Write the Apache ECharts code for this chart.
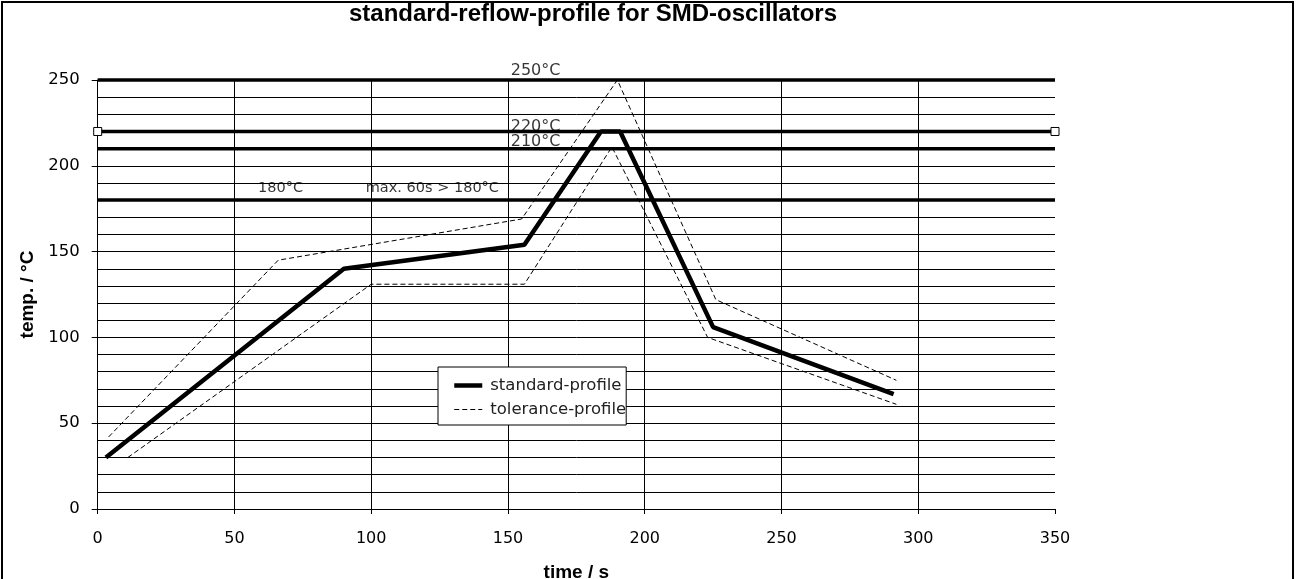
<!DOCTYPE html>
<html>
<head>
<meta charset="utf-8">
<script src="https://cdn.jsdelivr.net/npm/echarts@6/dist/echarts.min.js"></script>
<style>html,body{margin:0;padding:0;background:#fff;}#c{width:1297px;height:579px;}</style>
</head>
<body>
<div id="c"></div>
<script>
// ---- data ----
const standardProfile = [[3,30],[90,140],[156,154],[184,220],[191,220],[225,106],[291,67]];
const toleranceUpper  = [[4,42],[66,145],[155,169],[190,250],[226,122],[292,75]];
const toleranceLower  = [[11,30],[100,131],[156,131],[188,211],[223,100],[292,61]];
const limitLevels = [250, 220, 210, 180];
const limitStart = 0, limitEnd = 350;
const peakLabelTexts = ['250°C', '220°C', '210°C'];
const peakLabelX = [151, 151, 151];
const peakLabelY = [250.6, 218.2, 209.2];
const soakLabelTexts = ['180°C', 'max. 60s > 180°C'];
const soakLabelX = [58.6, 98];
const soakLabelY = [182.6, 182.6];
const xTicks = [0, 50, 100, 150, 200, 250, 300, 350];
const yTicks = [0, 50, 100, 150, 200, 250];

const chart = echarts.init(document.getElementById('c'));
const lblFont = 'DejaVu Sans';

const limitSeries = limitLevels.map(v => ({
  type: 'line',
  name: 'limit' + v,
  data: [[limitStart, v], [limitEnd, v]],
  lineStyle: { color: '#000', width: 3.5 },
  symbol: v === 220 ? 'rect' : 'none',
  symbolSize: 8,
  showSymbol: v === 220,
  itemStyle: { color: '#fff', borderColor: '#000', borderWidth: 1 },
  silent: true, z: 3, animation: false, clip: false
}));

function labelSeries(name, texts, xs, ys, size) {
  return {
    type: 'scatter', name: name, symbolSize: 0, silent: true, z: 2, clip: false,
    data: texts.map((t, i) => ({ value: [xs[i], ys[i]], name: t })),
    label: {
      show: true, position: [0, 0], align: 'left', verticalAlign: 'bottom',
      formatter: p => p.name, fontFamily: lblFont, fontSize: size, color: '#000'
    }
  };
}

const option = {
  backgroundColor: '#fff',
  animation: false,
  title: {
    text: 'standard-reflow-profile for SMD-oscillators',
    left: 344, top: -3,
    textStyle: { fontFamily: 'Liberation Sans', fontWeight: 'bold', fontSize: 24, color: '#000' }
  },
  legend: {
    data: [
      { name: 'standard-profile', lineStyle: { width: 4.5, color: '#000' } },
      { name: 'tolerance-profile', lineStyle: { width: 1, color: '#000', type: [5, 3] } }
    ],
    orient: 'vertical',
    left: 438, top: 367,
    padding: [10, 0, 7, 14],
    itemGap: 7,
    itemWidth: 28, itemHeight: 14,
    backgroundColor: '#fff',
    borderColor: '#000', borderWidth: 1, borderRadius: 0,
    itemStyle: { opacity: 0 },
    textStyle: { fontFamily: lblFont, fontSize: 16.5, color: '#222', padding: [0, 0, 0, 3] }
  },
  grid: { left: 97.7, right: 242, top: 80, bottom: 70, containLabel: false, outerBoundsMode: 'none' },
  xAxis: {
    type: 'value', min: 0, max: 350, interval: 50,
    name: 'time / s', nameLocation: 'middle', nameGap: 54,
    nameTextStyle: { fontFamily: 'Liberation Sans', fontWeight: 'bold', fontSize: 19, color: '#000', verticalAlign: 'top' },
    axisLine: { show: true, lineStyle: { color: '#000', width: 1 } },
    axisTick: { show: true, length: 5, lineStyle: { color: '#000' } },
    axisLabel: { color: '#000', fontFamily: lblFont, fontSize: 16, margin: 22,
      formatter: v => xTicks.includes(v) ? String(v) : '' },
    splitLine: { show: true, showMaxLine: false, lineStyle: { color: '#000', width: 1 } }
  },
  yAxis: {
    type: 'value', min: 0, max: 250, interval: 50,
    name: 'temp. / °C', nameLocation: 'middle', nameGap: 58,
    nameTextStyle: { fontFamily: 'Liberation Sans', fontWeight: 'bold', fontSize: 19, color: '#000' },
    axisLine: { show: true, lineStyle: { color: '#000', width: 1 } },
    axisTick: { show: true, length: 6, lineStyle: { color: '#000' } },
    axisLabel: { color: '#000', fontFamily: lblFont, fontSize: 16.5, margin: 18,
      formatter: v => yTicks.includes(v) ? String(v) : '' },
    splitLine: { show: true, lineStyle: { color: '#000', width: 1 } },
    minorTick: { show: false, splitNumber: 5 },
    minorSplitLine: { show: true, lineStyle: { color: '#000', width: 1 } }
  },
  graphic: [
    { type: 'rect', shape: { x: 2, y: 2, width: 1291, height: 600 },
      style: { fill: 'none', stroke: '#000', lineWidth: 2 }, silent: true }
  ],
  series: [
    ...limitSeries,
    {
      type: 'line', name: 'standard-profile', data: standardProfile,
      symbol: 'none', lineStyle: { color: '#000', width: 4.5 }, itemStyle: { color: '#000' }, z: 5
    },
    {
      type: 'line', name: 'tolerance-profile', data: toleranceUpper,
      symbol: 'none', lineStyle: { color: '#000', width: 1, type: [5, 3] }, itemStyle: { color: '#000' }, z: 4
    },
    {
      type: 'line', name: 'tolerance-profile', data: toleranceLower,
      symbol: 'none', lineStyle: { color: '#000', width: 1, type: [5, 3] }, itemStyle: { color: '#000' }, z: 4
    },
    labelSeries('peakLabels', peakLabelTexts, peakLabelX, peakLabelY, 16),
    labelSeries('soakLabels', soakLabelTexts, soakLabelX, soakLabelY, 14.5)
  ]
};
chart.setOption(option);
</script>
</body>
</html>
